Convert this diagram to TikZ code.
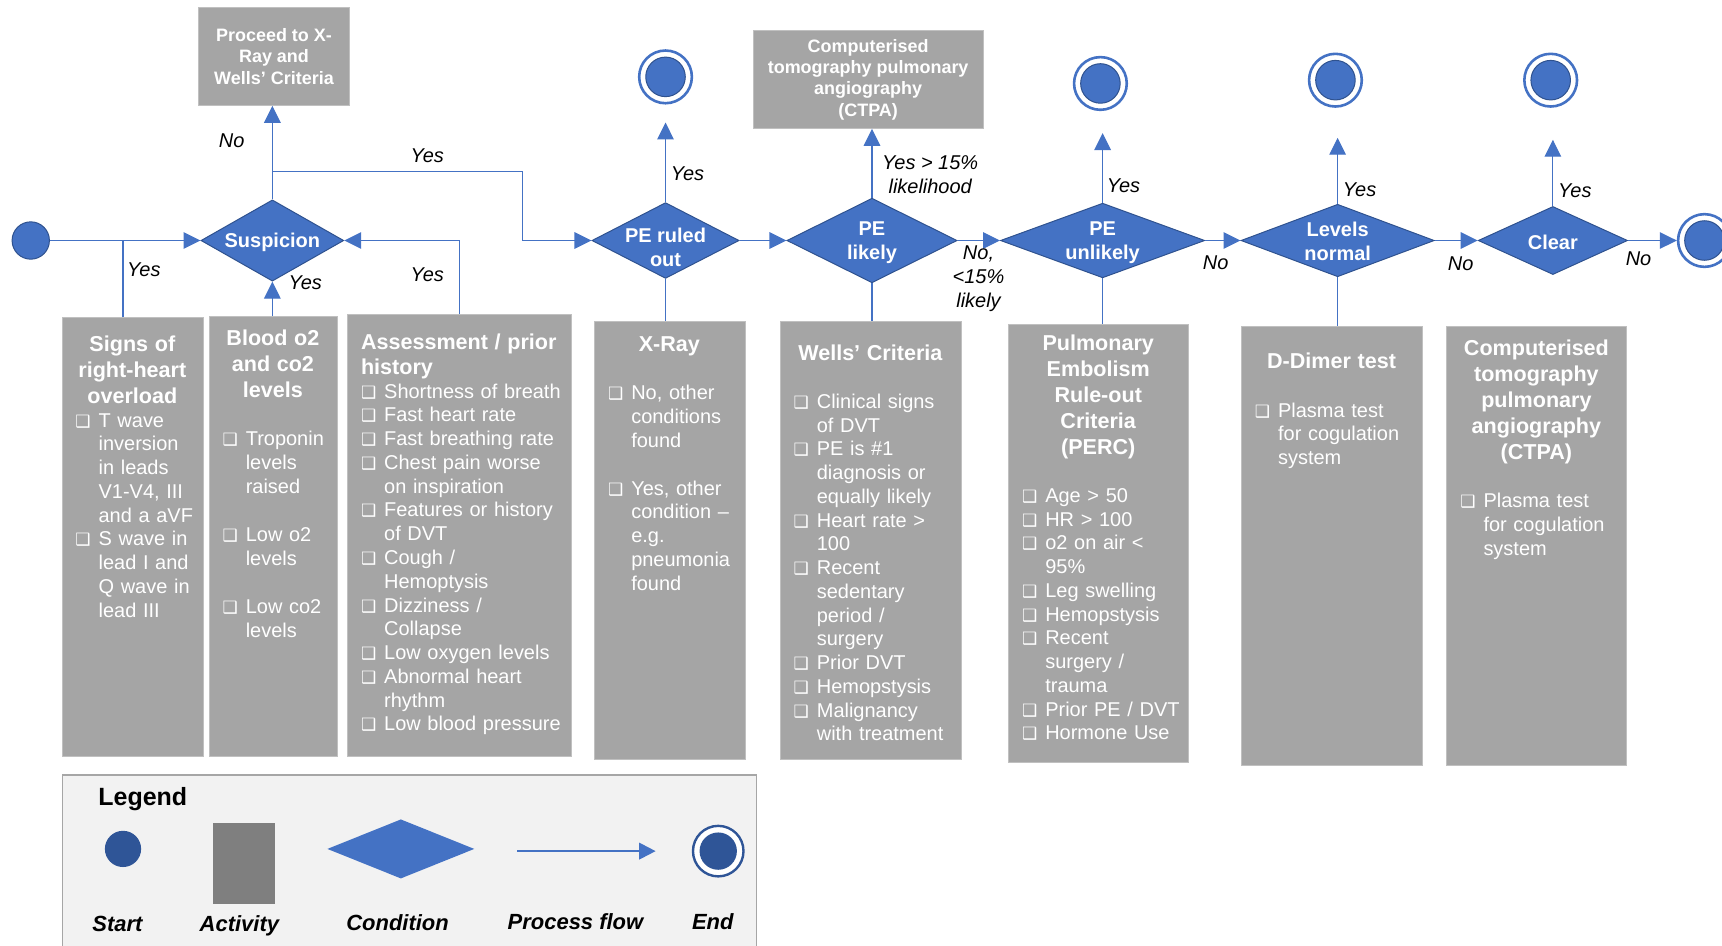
\documentclass[tikz,border=0pt]{standalone}
\usepackage{fontspec}
\setmainfont{Liberation Sans}
\newfontfamily\dejavu{DejaVu Sans}
\usetikzlibrary{shapes.geometric,arrows.meta}

\definecolor{flowblue}{HTML}{4472C4}
\definecolor{darkblue}{HTML}{2F528F}
\definecolor{legblue}{HTML}{2F5597}
\definecolor{actgray}{HTML}{A5A5A5}
\definecolor{leggray}{HTML}{7F7F7F}
\definecolor{legfill}{HTML}{F2F2F2}
\definecolor{legline}{HTML}{A6A6A6}

% one unit of the picture is 0.55pt
\newcommand{\px}[1]{#1*0.55pt}
\newcommand{\bx}{{\dejavu\fontsize{8.5}{8.5}\selectfont ❑}}
\newlength{\bxpad}\setlength{\bxpad}{7pt}
\newlength{\bxind}\setlength{\bxind}{11.6pt}
\newcommand{\itm}[1]{\par\leftskip=\bxpad\hangindent=\bxind\hangafter=1\noindent\makebox[\bxind][l]{\bx}{\let\\\newline #1}\par}
\newcommand{\ttl}[1]{{\centering\bfseries\fontsize{10.8}{13}\selectfont #1\par}}
\newcommand{\ttlleft}[1]{{\leftskip=\bxpad\bfseries\fontsize{10.8}{12.6}\selectfont #1\par}}
\newcommand{\gap}{\vspace{12.2pt}}

\begin{document}
\begin{tikzpicture}[x=0.55pt, y=-0.55pt,
    flow/.style={flowblue, line width=0.6pt, -{Triangle[length=8.5pt,width=8.3pt]}},
    link/.style={flowblue, line width=0.6pt},
    cond/.style={diamond, fill=flowblue, draw=darkblue, line width=0.5pt, inner sep=0pt},
    condtxt/.style={text=white, font=\bfseries\fontsize{10}{12}\selectfont, align=center, inner sep=0pt},
    act/.style={rectangle, fill=actgray, draw=actgray!70!white, line width=0.4pt, inner sep=0pt, anchor=north west},
    acttxt/.style={text=white, anchor=base, inner sep=0pt, align=left, font=\fontsize{10}{11.9}\selectfont},
    topact/.style={rectangle, fill=actgray, draw=actgray!70!white, line width=0.4pt, inner sep=0pt,
        text=white, align=center, font=\bfseries\fontsize{9}{10.7}\selectfont},
    startdot/.style={circle, fill=flowblue, draw=darkblue, line width=0.5pt, minimum size=\px{34}, inner sep=0pt},
    enddot/.style={circle, draw=flowblue, line width=1.3pt, fill=white, minimum size=\px{48}, inner sep=0pt,
        path picture={\filldraw[fill=flowblue, draw=darkblue, line width=0.5pt] (path picture bounding box.center) circle (\px{18});}},
    legenddot/.style={circle, draw=legblue, line width=1.2pt, fill=white, minimum size=\px{46}, inner sep=0pt,
        path picture={\fill[legblue] (path picture bounding box.center) circle (\px{17});}},
    lbl/.style={font=\itshape\fontsize{10}{12}\selectfont, align=center, inner sep=0pt},
    leglbl/.style={font=\bfseries\itshape\fontsize{11}{13}\selectfont, inner sep=0pt}]
\useasboundingbox (0,0) rectangle (1568,861);

% conditions along the main line
\node[startdot] (start) at (28,219) {};
\node[cond, minimum width=\px{130}, minimum height=\px{74}] (susp) at (248,219) {};
\node[condtxt] (susptxt) at ([yshift=-1pt]susp.center) {Suspicion};
\node[cond, minimum width=\px{134}, minimum height=\px{69}] (ruled) at (606,219) {};
\node[condtxt] (ruledtxt) at ([yshift=-3.5pt]ruled.center) {PE ruled\\out};
\node[cond, minimum width=\px{155}, minimum height=\px{77}] (likely) at (794,219) {};
\node[condtxt] (likelytxt) at ([yshift=-1pt]likely.center) {PE\\likely};
\node[cond, minimum width=\px{186}, minimum height=\px{68}] (unl) at (1004,219) {};
\node[condtxt] (unltxt) at ([yshift=-1pt]unl.center) {PE\\unlikely};
\node[cond, minimum width=\px{176}, minimum height=\px{66}] (levels) at (1218,219) {};
\node[condtxt] (levelstxt) at ([yshift=-0.5pt]levels.center) {Levels\\normal};
\node[cond, minimum width=\px{136}, minimum height=\px{62}] (clear) at (1414,219) {};
\node[condtxt] (cleartxt) at ([yshift=-1pt]clear.center) {Clear};

% end points
\node[enddot] (endA) at (606,70) {};
\node[enddot] (endB) at (1002,76) {};
\node[enddot] (endC) at (1216,73) {};
\node[enddot] (endD) at (1412,73) {};
\node[enddot] (endE) at (1552,219) {};

% activities above the line
\node[topact, minimum width=\px{137}, minimum height=\px{89}] (proc) at (249.5,51.5) {Proceed to X-\\Ray and\\Wells’ Criteria};
\node[topact, minimum width=\px{209}, minimum height=\px{89}] (ctpatop) at (790.5,72.5) {Computerised\\tomography pulmonary\\angiography\\(CTPA)};

% activities below the line
\node[act, minimum width=\px{129}, minimum height=\px{399}] (signs) at (56,289) {};
\node[act, minimum width=\px{117}, minimum height=\px{400}] (blood) at (190,288) {};
\node[act, minimum width=\px{204}, minimum height=\px{402}] (assess) at (316,286) {};
\node[act, minimum width=\px{137}, minimum height=\px{399}] (xray) at (541,292) {};
\node[act, minimum width=\px{165}, minimum height=\px{399}] (wells) at (710,292) {};
\node[act, minimum width=\px{164}, minimum height=\px{399}] (perc) at (918,295) {};
\node[act, minimum width=\px{165}, minimum height=\px{400}] (ddimer) at (1130,297) {};
\node[act, minimum width=\px{164}, minimum height=\px{400}] (ctpa) at (1317,297) {};

\node[acttxt, text width=70.95pt] (signstxt) at (120.5,320) {%
  \ttl{Signs of\\right-heart\\overload}
  \itm{T wave\\inversion\\in leads\\V1-V4, III\\and a aVF}
  \itm{S wave in\\lead I and\\Q wave in\\lead III}};
\node[acttxt, text width=64.35pt] (bloodtxt) at (248.5,315) {%
  \ttl{Blood o2\\and co2\\levels}\gap
  \itm{Troponin\\levels\\raised}\gap
  \itm{Low o2\\levels}\gap
  \itm{Low co2\\levels}};
\node[acttxt, text width=112.2pt] (assesstxt) at (418,318) {%
  \ttlleft{Assessment / prior\\history}
  \itm{Shortness of breath}
  \itm{Fast heart rate}
  \itm{Fast breathing rate}
  \itm{Chest pain worse\\on inspiration}
  \itm{Features or history\\of DVT}
  \itm{Cough /\\Hemoptysis}
  \itm{Dizziness /\\Collapse}
  \itm{Low oxygen levels}
  \itm{Abnormal heart\\rhythm}
  \itm{Low blood pressure}};
\node[acttxt, text width=75.35pt] (xraytxt) at (609.5,320) {%
  \ttl{X-Ray}\gap
  \itm{No, other\\conditions\\found}\gap
  \itm{Yes, other\\condition –\\e.g.\\pneumonia\\found}};
\node[acttxt, text width=90.75pt] (wellstxt) at (792.5,328) {%
  \ttl{Wells’ Criteria}\gap
  \itm{Clinical signs\\of DVT}
  \itm{PE is \#1\\diagnosis or\\equally likely}
  \itm{Heart rate >\\100}
  \itm{Recent\\sedentary\\period /\\surgery}
  \itm{Prior DVT}
  \itm{Hemopstysis}
  \itm{Malignancy\\with treatment}};
\node[acttxt, text width=90.2pt] (perctxt) at (1000,319) {%
  \ttl{Pulmonary\\Embolism\\Rule-out\\Criteria\\(PERC)}\gap
  \itm{Age > 50}
  \itm{HR > 100}
  \itm{o2 on air <\\95\%}
  \itm{Leg swelling}
  \itm{Hemopstysis}
  \itm{Recent\\surgery /\\trauma}
  \itm{Prior PE / DVT}
  \itm{Hormone Use}};
\node[acttxt, text width=90.75pt] (ddimertxt) at (1212.5,336) {%
  \ttl{D-Dimer test}\gap
  \itm{Plasma test\\for cogulation\\system}};
\node[acttxt, text width=90.2pt] (ctpatxt) at (1399,324) {%
  \ttl{Computerised\\tomography\\pulmonary\\angiography\\(CTPA)}\gap
  \itm{Plasma test\\for cogulation\\system}};

% connectors
\coordinate (signsjoin) at (112,219);
\coordinate (yesbend) at (476,156);
\draw[flow] (start.east) -- (susp.west);
\draw[link] (signsjoin |- signs.north) -- (signsjoin);
\draw[flow] (blood.north -| susp.south) -- (susp.south);
\draw[flow] (assess.north) |- (susp.east);
\draw[flow] (susp.north) -- (susp.north |- proc.south);
\draw[link] (susp.north |- yesbend) -| (yesbend |- ruled.west);
\draw[flow] (yesbend |- ruled.west) -- (ruled.west);
\draw[flow, shorten >=9pt] (ruled.north) -- (endA.south);
\draw[link] (ruled.south) -- (ruled.south |- xray.north);
\draw[flow] (ruled.east) -- (likely.west);
\draw[flow] (likely.north) -- (likely.north |- ctpatop.south);
\draw[link] (likely.south) -- (likely.south |- wells.north);
\draw[flow] (likely.east) -- (unl.west);
\draw[flow, shorten >=11pt] (unl.north) -- (unl.north |- endB.south);
\draw[link] (unl.south) -- (unl.south |- perc.north);
\draw[flow] (unl.east) -- (levels.west);
\draw[flow, shorten >=15pt] (levels.north) -- (levels.north |- endC.south);
\draw[link] (levels.south) -- (levels.south |- ddimer.north);
\draw[flow] (levels.east) -- (clear.west);
\draw[flow, shorten >=16pt] (clear.north) -- (clear.north |- endD.south);
\draw[flow] (clear.east) -- (endE.west);

% branch labels
\node[lbl] (noA) at (211,128) {No};
\node[lbl] (yesA) at (389,142) {Yes};
\node[lbl] (yesB) at (131,246) {Yes};
\node[lbl] (yesC) at (278,257) {Yes};
\node[lbl] (yesD) at (389,250) {Yes};
\node[lbl] (yesE) at (626,158) {Yes};
\node[lbl] (yesF) at (847,159) {Yes > 15\%\\likelihood};
\node[lbl] (noB) at (891,254) {No,\\<15\%\\likely};
\node[lbl] (yesG) at (1023,169) {Yes};
\node[lbl] (noC) at (1107,239) {No};
\node[lbl] (yesH) at (1238,173) {Yes};
\node[lbl] (noD) at (1330,240) {No};
\node[lbl] (yesI) at (1434,174) {Yes};
\node[lbl] (noE) at (1492,236) {No};

% legend
\node[draw=legline, fill=legfill, line width=0.8pt, anchor=north west, minimum width=\px{632},
    minimum height=\px{162}, inner sep=0pt] (legbox) at (56,705) {};
\node[font=\bfseries\fontsize{12.5}{15}\selectfont, inner sep=0pt] (legtitle) at (130,728) {Legend};
\node[circle, fill=legblue, minimum size=\px{33}, inner sep=0pt] (legstart) at (112,773) {};
\node[rectangle, fill=leggray, minimum width=\px{56}, minimum height=\px{74}, inner sep=0pt] (legact) at (222,786) {};
\node[diamond, fill=flowblue, minimum width=\px{134}, minimum height=\px{54}, inner sep=0pt] (legcond) at (365,773) {};
\coordinate (legflowA) at (471,775);
\coordinate (legflowB) at (597,775);
\draw[flowblue, line width=1.1pt, -{Triangle[length=8.3pt,width=8.3pt]}] (legflowA) -- (legflowB);
\node[legenddot] (legend) at (654,775) {};
\node[leglbl] (lgstart) at (107,841) {Start};
\node[leglbl] (lgact) at (218,843) {Activity};
\node[leglbl] (lgcond) at (362,840) {Condition};
\node[leglbl] (lgflow) at (524,839) {Process flow};
\node[leglbl] (lgend) at (649,839) {End};
\end{tikzpicture}
\end{document}
